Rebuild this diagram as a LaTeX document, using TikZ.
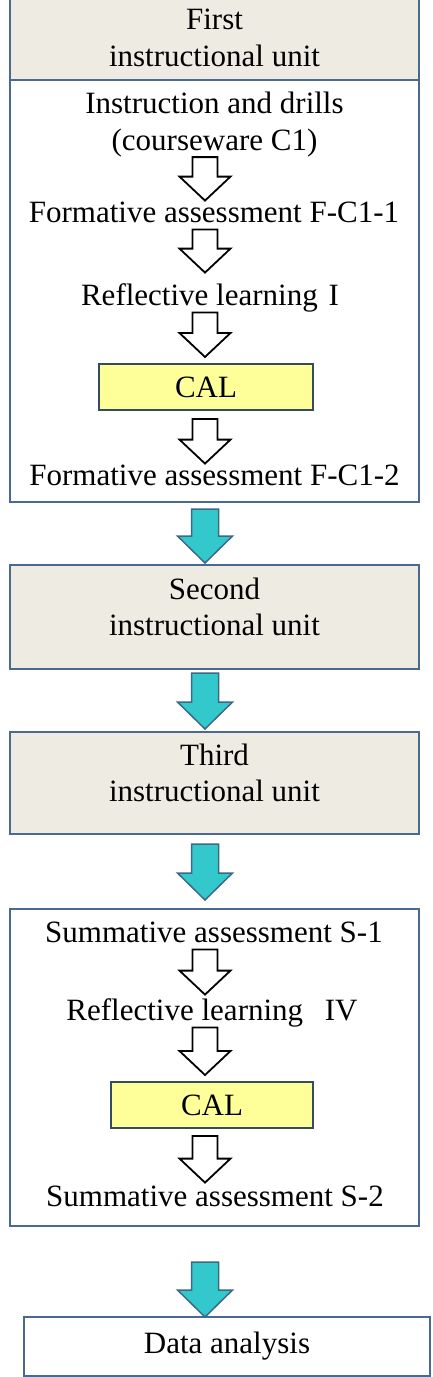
\documentclass[tikz,border=0pt]{standalone}
\usepackage{fontspec}
\setmainfont{Liberation Serif}
\usetikzlibrary{calc}

\definecolor{boxblue}{RGB}{74,105,145}
\definecolor{unittan}{RGB}{238,236,226}
\definecolor{calyellow}{RGB}{255,255,153}
\definecolor{caledge}{RGB}{55,75,95}
\definecolor{arrowteal}{RGB}{51,200,204}
\definecolor{arrowedge}{RGB}{60,105,135}

\newcommand{\flowfont}{\fontsize{15.5pt}{18.25pt}\selectfont}

\tikzset{
    blockarrow/.style n args={3}{
        to path={let \p1=(\tikztostart), \p2=(\tikztotarget), \p3=(spine) in
            (\x3-#1,\y1) -- (\x3-#1,\y2+#3) -- (\x3-#2,\y2+#3) -- (\x3,\y2)
            -- (\x3+#2,\y2+#3) -- (\x3+#1,\y2+#3) -- (\x3+#1,\y1) -- cycle}
    },
}

\begin{document}
\begin{tikzpicture}[
        x=0.5pt, y=-0.5pt,
        unitbox/.style={draw=boxblue, line width=1pt, fill=unittan, outer sep=0pt,
            minimum width=204.5pt, align=center, font=\flowfont},
        stagebox/.style={draw=boxblue, line width=1pt, fill=white, outer sep=0pt, minimum width=204.5pt},
        calbox/.style={draw=caledge, line width=1pt, fill=calyellow, outer sep=0pt,
            minimum height=23pt, font=\flowfont},
        steptext/.style={inner sep=0pt, anchor=base, text height=10.5pt, text depth=3.5pt, font=\flowfont},
        lowtext/.style={execute at end node={\rule[-10.5pt]{0pt}{10.5pt}}},
        openarrow/.style={draw=black, fill=white, line width=0.9pt, blockarrow={6.25pt}{12.75pt}{12pt}},
        tealarrow/.style={draw=arrowedge, fill=arrowteal, line width=0.75pt, blockarrow={6.75pt}{13.75pt}{13.5pt}},
    ]
    \useasboundingbox (0,0) rectangle (433,1377);
    \coordinate (spine) at (205,0);

    % First unit: title bar over its step box
    \node[stagebox, minimum height=211pt] (body1) at (214.5,291) {};
    \node[unitbox, minimum height=42pt] (unit1) at (214.5,38) {First\\instructional unit};
    \node[font=\flowfont, inner sep=0pt, align=center] (instr) at (214.5,124.4) {Instruction and drills\\(courseware C1)};
    \node[steptext] (fa1) at (214,222) {Formative assessment F-C1-1};
    \node[steptext] (refl1) at (210,305) {Reflective learning\hspace{0.35em}I};
    \node[calbox, minimum width=107pt] (cal1) at (206,387) {CAL};
    \node[steptext] (fa2) at (214.5,485) {Formative assessment F-C1-2};

    % Second and third units
    \node[unitbox, lowtext, minimum height=52pt] (unit2) at (214.5,617) {Second\\instructional unit};
    \node[unitbox, lowtext, minimum height=51pt] (unit3) at (214.5,783) {Third\\instructional unit};

    % Summative stage and analysis
    \node[stagebox, minimum height=158.5pt] (body4) at (214.5,1067.5) {};
    \node[steptext] (s1) at (214,942) {Summative assessment S-1};
    \node[steptext] (refl4) at (212,1020) {Reflective learning\hspace{0.7em}IV};
    \node[calbox, minimum width=101pt] (cal2) at (212,1105) {CAL};
    \node[steptext] (s2) at (215,1206) {Summative assessment S-2};
    \node[stagebox, minimum width=203pt, minimum height=29.5pt, font=\flowfont] (data) at (227,1346.5) {Data analysis};

    % Step arrows inside the boxes
    \draw[openarrow] (instr.south) to (fa1.north);
    \draw[openarrow] (fa1.south) to ([yshift=5.5pt]refl1.north);
    \draw[openarrow] (refl1.south) to ([yshift=3.5pt]cal1.north);
    \draw[openarrow] ([yshift=-4.5pt]cal1.south) to (fa2.north);
    \draw[openarrow] (s1.south) to ([yshift=2pt]refl4.north);
    \draw[openarrow] (refl4.south) to ([yshift=3.5pt]cal2.north);
    \draw[openarrow] ([yshift=-4pt]cal2.south) to ([yshift=1pt]s2.north);

    % Arrows between the units
    \draw[tealarrow] ([yshift=-3.5pt]body1.south) to ([yshift=1pt]unit2.north);
    \draw[tealarrow] ([yshift=-2pt]unit2.south) to ([yshift=1.5pt]unit3.north);
    \draw[tealarrow] ([yshift=-5pt]unit3.south) to ([yshift=4.5pt]body4.north);
    \draw[tealarrow] ([yshift=-18pt]body4.south) to (data.north);
\end{tikzpicture}
\end{document}
